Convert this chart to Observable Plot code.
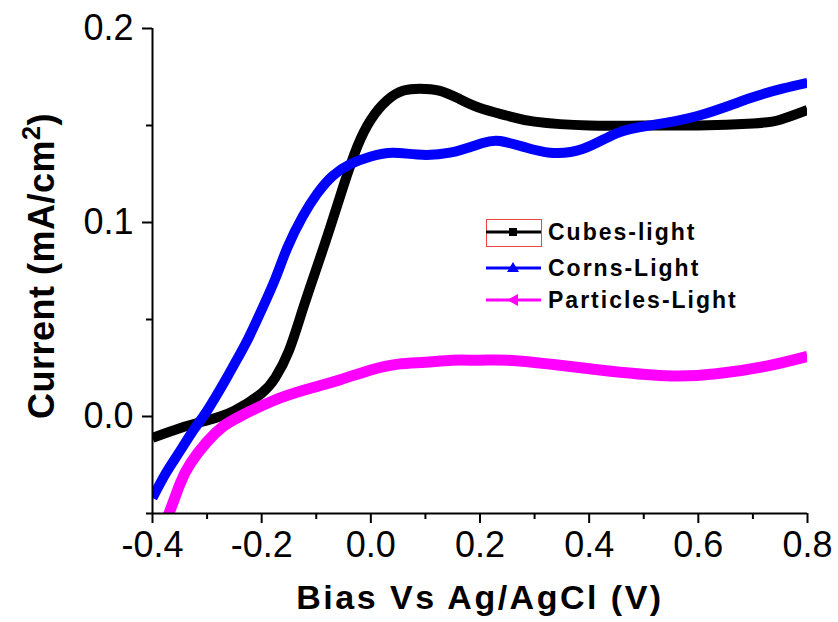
<!DOCTYPE html>
<html><head><meta charset="utf-8">
<script src="https://cdn.jsdelivr.net/npm/d3@7"></script>
<script src="https://cdn.jsdelivr.net/npm/@observablehq/plot@0.6"></script>
<style>
body{margin:0;background:#fff;}
#wrap{position:relative;width:838px;height:622px;font-family:"Liberation Sans",Arial,sans-serif;color:#000;}
#ylab{position:absolute;left:42px;top:266px;transform:translate(-50%,-50%) rotate(-90deg);font-weight:bold;font-size:36px;white-space:nowrap;letter-spacing:0.5px;}
#ylab sup{font-size:0.7em;vertical-align:0.55em;line-height:0;}
#xlab{position:absolute;left:480px;top:597px;transform:translate(-50%,-50%);font-weight:bold;font-size:34px;white-space:nowrap;letter-spacing:2.5px;}
#legend{position:absolute;left:0;top:0;width:838px;height:622px;pointer-events:none;}
.lt{position:absolute;left:548px;font-weight:bold;font-size:23px;letter-spacing:2px;white-space:nowrap;transform:translateY(-50%);}
</style></head><body>
<div id="wrap"></div>
<script>
// Series data
const cubesX = [-0.40,-0.35,-0.30,-0.25,-0.20,-0.175,-0.15,-0.125,-0.10,-0.075,-0.05,-0.025,0.00,0.03,0.06,0.09,0.125,0.16,0.20,0.25,0.30,0.40,0.50,0.60,0.70,0.75,0.80];
const cubesY = [-0.011,-0.006,-0.002,0.003,0.012,0.020,0.034,0.055,0.076,0.097,0.119,0.139,0.153,0.163,0.168,0.169,0.168,0.164,0.159,0.155,0.152,0.150,0.150,0.150,0.151,0.153,0.158];

const cornsX = [-0.40,-0.375,-0.35,-0.325,-0.30,-0.266,-0.25,-0.225,-0.20,-0.175,-0.153,-0.125,-0.098,-0.07,-0.038,0.00,0.04,0.085,0.145,0.205,0.237,0.28,0.328,0.389,0.45,0.511,0.60,0.694,0.754,0.80];
const cornsY = [-0.042,-0.029,-0.018,-0.007,0.003,0.019,0.027,0.040,0.055,0.071,0.087,0.103,0.115,0.124,0.130,0.134,0.136,0.135,0.136,0.141,0.142,0.139,0.136,0.138,0.146,0.150,0.155,0.164,0.169,0.172];

const particlesX = [-0.385,-0.37,-0.35,-0.33,-0.30,-0.27,-0.24,-0.18,-0.117,-0.056,0.00,0.05,0.10,0.15,0.20,0.25,0.328,0.42,0.54,0.633,0.725,0.80];
const particlesY = [-0.058,-0.050,-0.035,-0.024,-0.013,-0.005,0.000,0.008,0.014,0.019,0.024,0.027,0.028,0.029,0.029,0.029,0.027,0.024,0.021,0.022,0.026,0.031];

const seriesNames = ["Cubes-light","Corns-Light","Particles-Light"];
const seriesColors = ["#000000","#0000ff","#ff00ff"];

const xTicks = [-0.4,-0.2,0.0,0.2,0.4,0.6,0.8];
const xTickLabels = ["-0.4","-0.2","0.0","0.2","0.4","0.6","0.8"];
const xMinorTicks = [-0.3,-0.1,0.1,0.3,0.5,0.7];
const yTicks = [0.0,0.1,0.2];
const yTickLabels = ["0.0","0.1","0.2"];
const yMinorTicks = [-0.05,0.05,0.15];

const toRows = (xs, ys) => xs.map((x, i) => ({x, y: ys[i]}));
const cubes = toRows(cubesX, cubesY);
const corns = toRows(cornsX, cornsY);
const particles = toRows(particlesX, particlesY);
const xLab = new Map(xTicks.map((t, i) => [t, xTickLabels[i]]));
const yLab = new Map(yTicks.map((t, i) => [t, yTickLabels[i]]));

const lineOpts = (c) => ({x: "x", y: "y", stroke: c, strokeWidth: 10, curve: "natural", clip: true, strokeLinecap: "butt"});

const chart = Plot.plot({
  width: 838, height: 622,
  marginLeft: 152, marginRight: 31, marginTop: 28, marginBottom: 109,
  x: {domain: [-0.4, 0.8]},
  y: {domain: [-0.05, 0.2]},
  style: {fontFamily: "'Liberation Sans', Arial, sans-serif", fontSize: "36px", color: "#000", background: "transparent", overflow: "visible"},
  marks: [
    Plot.line(cubes, lineOpts(seriesColors[0])),
    Plot.line(corns, lineOpts(seriesColors[1])),
    Plot.line(particles, {...lineOpts(seriesColors[2]), strokeWidth: 11}),
    Plot.ruleX([-0.4], {y1: -0.05, y2: 0.2, stroke: "#000", strokeWidth: 2}),
    Plot.ruleY([-0.05], {x1: -0.4, x2: 0.8, stroke: "#000", strokeWidth: 2}),
    Plot.axisX({ticks: xTicks, tickSize: 10, tickPadding: 8, tickFormat: d => xLab.get(d), label: null, strokeWidth: 2}),
    Plot.axisX({ticks: xMinorTicks, tickSize: 6, tickFormat: () => "", label: null, strokeWidth: 2}),
    Plot.axisY({ticks: yTicks, tickSize: 10, tickPadding: 9, tickFormat: d => yLab.get(d), label: null, strokeWidth: 2}),
    Plot.axisY({ticks: yMinorTicks, tickSize: 6, tickFormat: () => "", label: null, strokeWidth: 2})
  ]
});
const wrap = document.getElementById("wrap");
wrap.appendChild(chart);

const yl = document.createElement("div");
yl.id = "ylab";
yl.innerHTML = "Current (mA/cm<sup>2</sup>)";
wrap.appendChild(yl);
const xl = document.createElement("div");
xl.id = "xlab";
xl.textContent = "Bias Vs Ag/AgCl (V)";
wrap.appendChild(xl);

// Legend
const ns = "http://www.w3.org/2000/svg";
const lg = document.createElementNS(ns, "svg");
lg.setAttribute("id", "legend");
lg.setAttribute("width", 838); lg.setAttribute("height", 622);
const rowsY = [232, 268, 300];
const mk = (tag, attrs) => { const e = document.createElementNS(ns, tag); for (const k in attrs) e.setAttribute(k, attrs[k]); lg.appendChild(e); return e; };
mk("rect", {x: 486.5, y: 219.5, width: 55, height: 27, fill: "none", stroke: "#ee4444", "stroke-width": 1});
seriesNames.forEach((name, i) => {
  const y = rowsY[i], c = seriesColors[i];
  mk("line", {x1: 486, x2: 541, y1: y, y2: y, stroke: c, "stroke-width": 3});
  if (i === 0) mk("rect", {x: 509, y: y - 4, width: 8, height: 8, fill: c});
  if (i === 1) mk("path", {d: `M513,${y-6}L519,${y+4}L507,${y+4}Z`, fill: c});
  if (i === 2) mk("path", {d: `M507,${y}L518,${y-6}L518,${y+6}Z`, fill: c});
  const t = document.createElement("div");
  t.className = "lt"; t.style.top = y + "px"; t.textContent = name;
  wrap.appendChild(t);
});
wrap.appendChild(lg);
</script>
</body></html>
